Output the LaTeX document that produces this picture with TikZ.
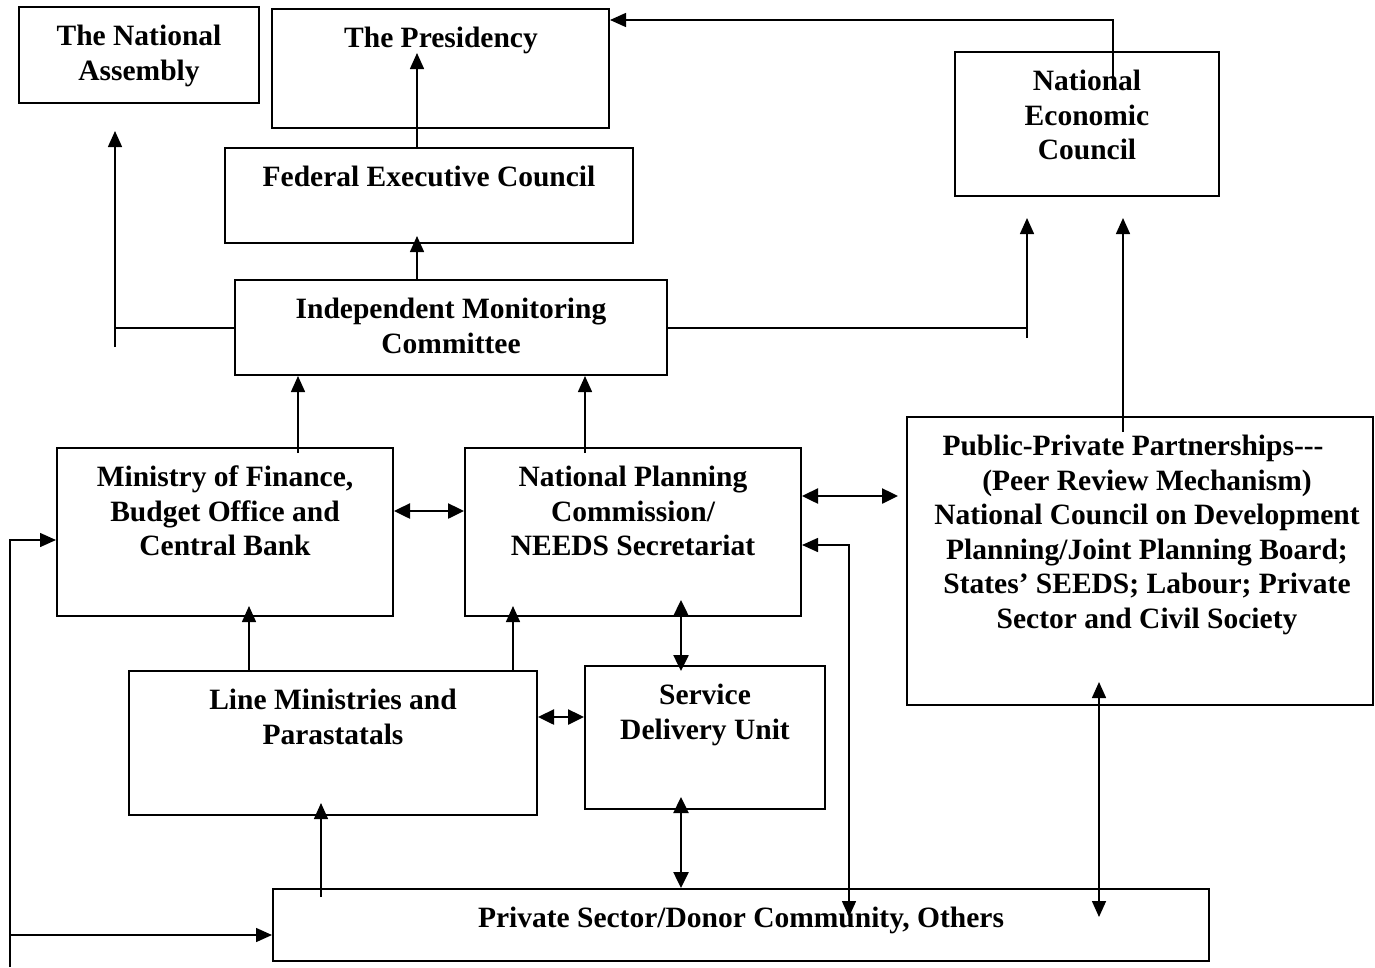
\documentclass[tikz,border=0pt]{standalone}
\usepackage{fontspec}
\setmainfont{Liberation Serif}
\usetikzlibrary{arrows.meta}
\begin{document}
\begin{tikzpicture}[x=1pt,y=-1pt,
  box/.style={draw,line width=2pt,inner sep=0pt},
  txt/.style={anchor=north,align=center,inner sep=0pt,font=\bfseries\fontsize{29.5}{34.5}\selectfont},
  ln/.style={line width=1.5pt},
  arr/.style={line width=1.5pt,-{Triangle[length=16pt,width=14pt]}},
  darr/.style={line width=1.5pt,{Triangle[length=16pt,width=14pt]}-{Triangle[length=16pt,width=14pt]}},
  tarr/.style={line width=2.5pt,{Triangle[length=16pt,width=15pt]}-{Triangle[length=16pt,width=15pt]}}]
\useasboundingbox (0,0) rectangle (1375,967);

% boxes
\node[box,minimum width=240pt,minimum height=96pt] (na) at (139,55) {};
\node[box,minimum width=337pt,minimum height=119pt] (pres) at (440.5,68.5) {};
\node[box,minimum width=408pt,minimum height=95pt] (fec) at (429,195.5) {};
\node[box,minimum width=432pt,minimum height=95pt] (imc) at (451,327.5) {};
\node[box,minimum width=264pt,minimum height=144pt] (nec) at (1087,124) {};
\node[box,minimum width=336pt,minimum height=168pt] (mof) at (225,532) {};
\node[box,minimum width=336pt,minimum height=168pt] (npc) at (633,532) {};
\node[box,minimum width=466pt,minimum height=288pt] (ppp) at (1140,561) {};
\node[box,minimum width=408pt,minimum height=144pt] (lm) at (333,743) {};
\node[box,minimum width=240pt,minimum height=143pt] (sdu) at (705,737.5) {};
\node[box,minimum width=936pt,minimum height=72pt] (ps) at (741,925) {};

% texts
\node[txt] (tna) at (139,25) {The National\\Assembly};
\node[txt] (tpres) at (441,27) {The Presidency};
\node[txt] (tfec) at (429,166) {Federal Executive Council};
\node[txt] (timc) at (451,298) {Independent Monitoring\\Committee};
\node[txt] (tnec) at (1087,70) {National\\Economic\\Council};
\node[txt] (tmof) at (225,466) {Ministry of Finance,\\Budget Office and\\Central Bank};
\node[txt] (tnpc) at (633,466) {National Planning\\Commission/\\NEEDS Secretariat};
\node[txt] (tppp) at (1147,435) {Public-Private Partnerships-{}-{}-\hspace*{28pt}\\(Peer Review Mechanism)\\National Council on Development\\Planning/Joint Planning Board;\\States’ SEEDS; Labour; Private\\Sector and Civil Society};
\node[txt] (tlm) at (333,689) {Line Ministries and\\Parastatals};
\node[txt] (tsdu) at (705,684) {Service\\Delivery Unit};
\node[txt] (tps) at (741,907) {Private Sector/Donor Community, Others};

% connectors
\coordinate (pa) at (417,53);
\draw[arr] (fec.north -| pa) -- (pa);
\coordinate (fa) at (417,236);
\draw[arr] (imc.north -| fa) -- (fa);

\coordinate (na1) at (115,328);
\coordinate (na2) at (115,347);
\coordinate (na3) at (115,131);
\draw[ln] (imc.west |- na1) -- (na1);
\draw[arr] (na2) -- (na3);

\coordinate (ne1) at (1027,328);
\coordinate (ne2) at (1027,338);
\coordinate (ne3) at (1027,218);
\draw[ln] (imc.east |- ne1) -- (ne1);
\draw[arr] (ne2) -- (ne3);

\coordinate (pp1) at (1123,432);
\coordinate (pp2) at (1123,218);
\draw[arr] (pp1) -- (pp2);

\coordinate (nc1) at (1113,90);
\coordinate (nc2) at (1113,20);
\draw[arr] (nc1) -- (nc2) -- (pres.east |- nc2);

\coordinate (m1) at (298,453);
\draw[arr] (m1) -- (imc.south -| m1);
\coordinate (n1) at (585,453);
\draw[arr] (n1) -- (imc.south -| n1);

\coordinate (mn) at (0,511);
\draw[tarr] (mof.east |- mn) -- (npc.west |- mn);

\coordinate (np) at (898,496);
\draw[tarr] (npc.east |- np) -- (np);

\coordinate (q1) at (849,545);
\coordinate (q2) at (849,917);
\draw[darr] (npc.east |- q1) -- (q1) -- (q2);

\coordinate (s1) at (681,600);
\coordinate (s2) at (681,671);
\draw[tarr] (s1) -- (s2);
\coordinate (s3) at (681,797);
\draw[tarr] (s3) -- (ps.north -| s3);

\coordinate (ls) at (0,717);
\draw[tarr] (lm.east |- ls) -- (sdu.west |- ls);

\coordinate (l1) at (249,606);
\draw[arr] (lm.north -| l1) -- (l1);
\coordinate (l2) at (513,606);
\draw[arr] (lm.north -| l2) -- (l2);

\coordinate (p1) at (321,897);
\coordinate (p2) at (321,803);
\draw[arr] (p1) -- (p2);

\coordinate (r1) at (1099,682);
\coordinate (r2) at (1099,917);
\draw[darr] (r1) -- (r2);

\coordinate (lf1) at (10,967);
\coordinate (lf2) at (10,540);
\coordinate (lf3) at (10,935);
\draw[arr] (lf1) -- (lf2) -- (mof.west |- lf2);
\draw[arr] (lf3) -- (ps.west |- lf3);
\end{tikzpicture}
\end{document}
